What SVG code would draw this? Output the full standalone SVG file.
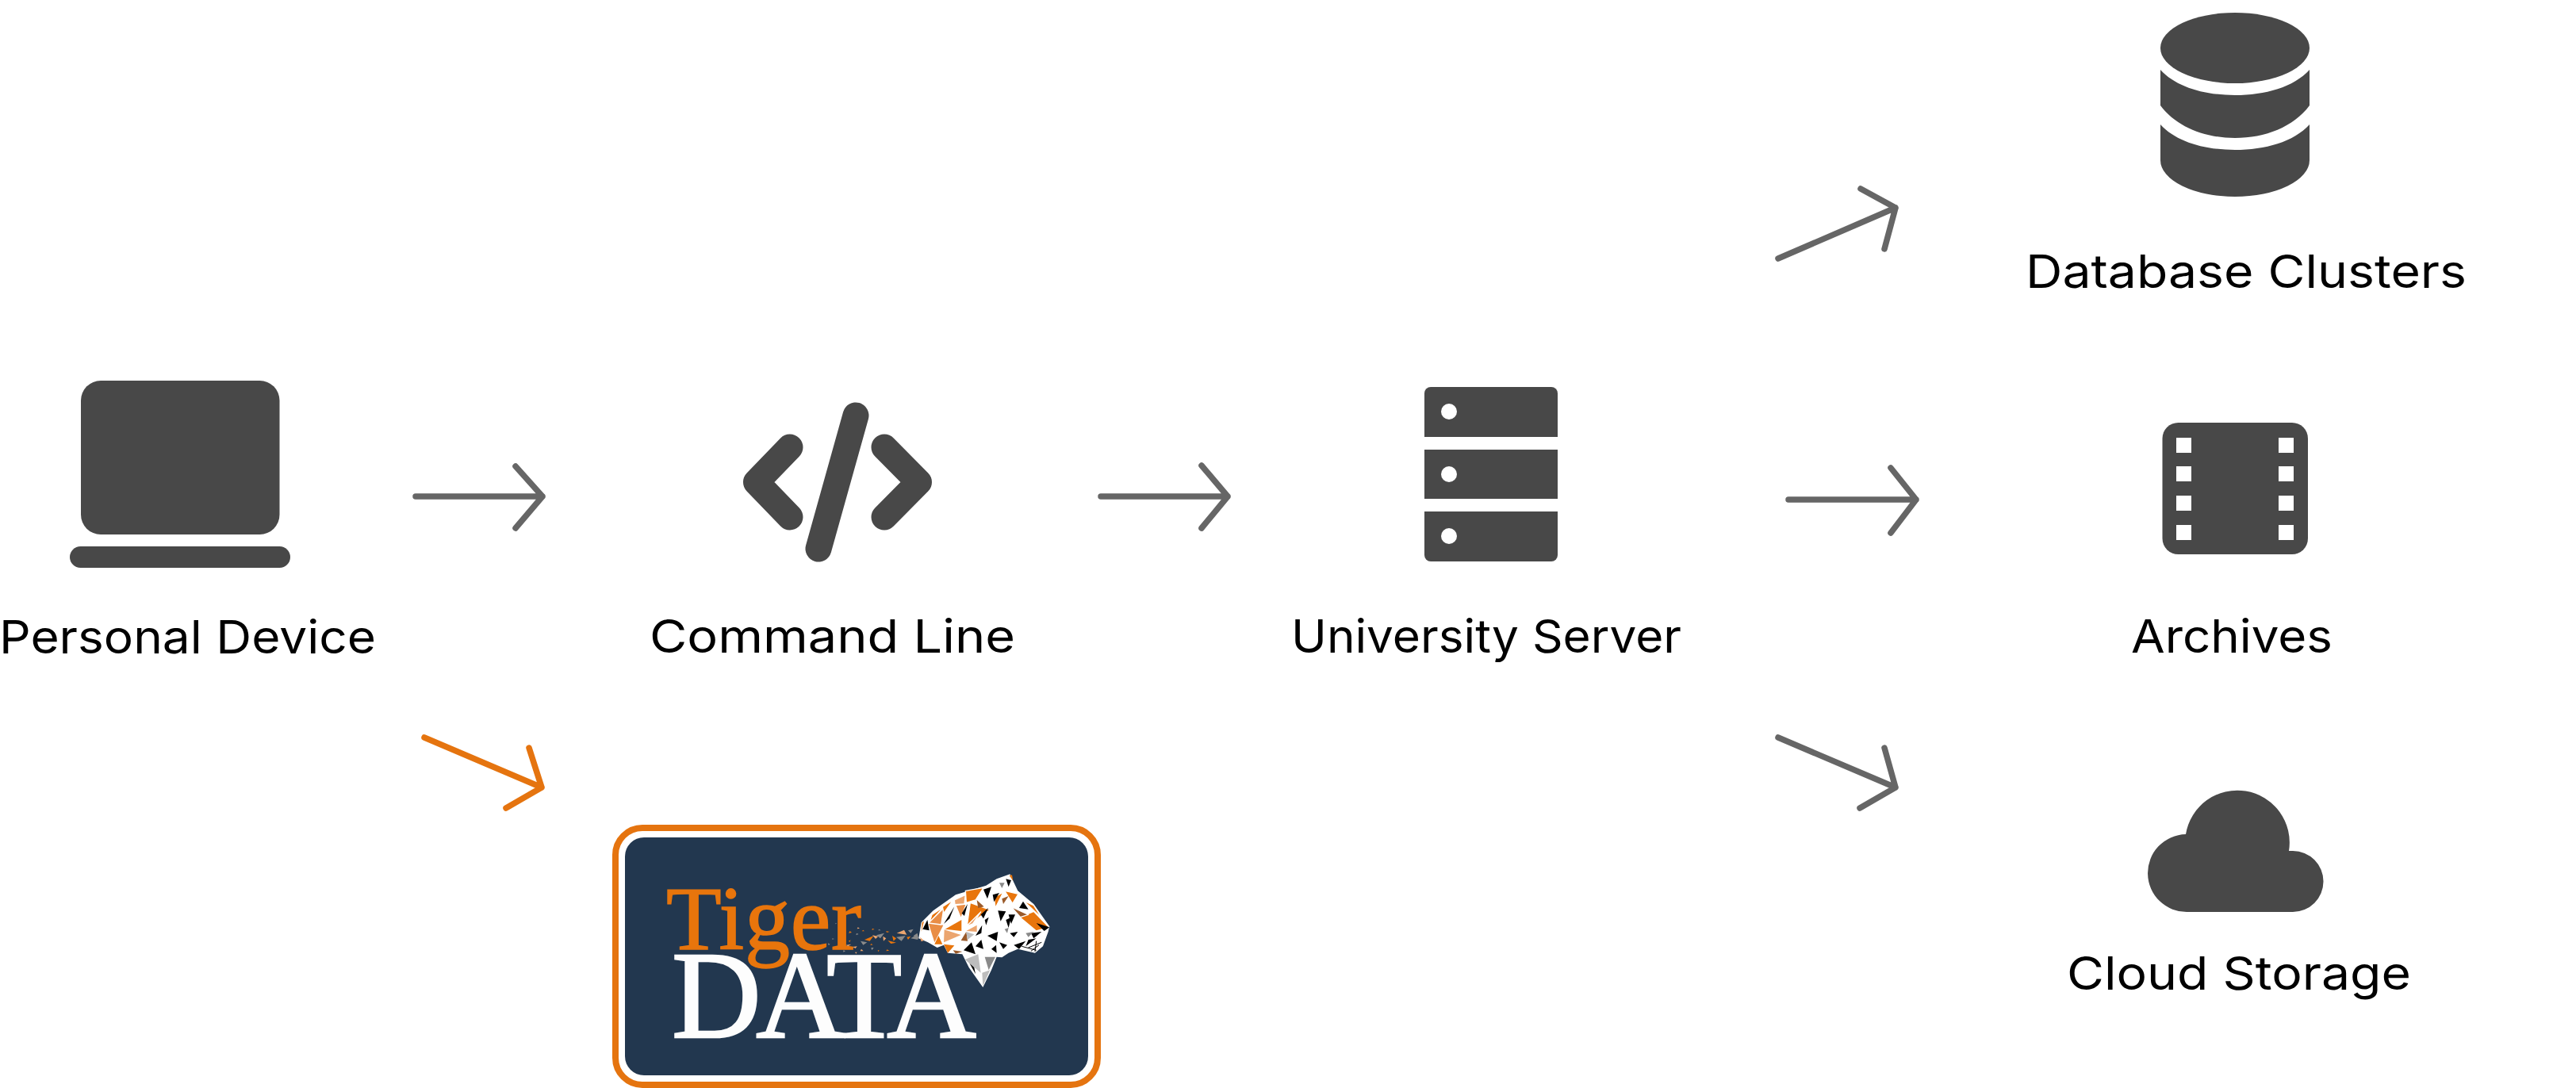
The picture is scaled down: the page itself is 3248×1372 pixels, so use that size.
<svg xmlns="http://www.w3.org/2000/svg" width="3248" height="1372" viewBox="0 0 3248 1372">
<style>
.icon{fill:#484848}
.hole{fill:#fff}
.label{font-family:"Inter","Liberation Sans",sans-serif;font-size:58px;font-weight:400;fill:#000}
.arrow{fill:none;stroke:#666;stroke-width:7.5;stroke-linecap:round;stroke-linejoin:round}
.orange{stroke:#e5740f}
.code{fill:none;stroke:#484848;stroke-width:33;stroke-linecap:round;stroke-linejoin:round}
.o{fill:#e8750c}.l{fill:#eba56f}.d{fill:#e98d45}.k{fill:#000}.g{fill:#8a8a8a}.s{fill:#bdbdbd}.b{fill:#9a5a2a}
.w{stroke:#fff;stroke-width:4;stroke-linejoin:round}
</style>
<rect width="3248" height="1372" fill="#fff"/>
<g id="connectors">
<path class="arrow" d="M524,626H684M650,588L684,626L650,666"/>
<path class="arrow" d="M1388,626H1548M1515,587L1548,626L1515,666"/>
<path class="arrow" d="M2242,326L2390,262M2346,238L2390,262L2376,314"/>
<path class="arrow" d="M2255,630H2416M2384,590L2416,630L2384,672"/>
<path class="arrow" d="M2242,930L2390,993M2376,943L2390,993L2345,1019"/>
<path class="arrow orange" d="M535,930L683,993M667,943L683,993L638,1019"/>
</g>
<g id="personal-device">
<rect class="icon" x="102" y="480" width="250.500" height="194" rx="25"/>
<rect class="icon" x="88" y="689" width="278" height="27" rx="13.500"/>
<text class="label" x="-1" y="824" textLength="475" lengthAdjust="spacingAndGlyphs">Personal Device</text>
</g>
<g id="command-line">
<path class="code" d="M996,564L953.500,608L996,652"/>
<path class="code" d="M1115,564L1158.500,608L1115,652"/>
<path class="code" d="M1079,524L1032,692"/>
<text class="label" x="819" y="823" textLength="461" lengthAdjust="spacingAndGlyphs">Command Line</text>
</g>
<g id="university-server">
<path class="icon" d="M1804,488H1956a8,8 0 0 1 8,8V551H1796V496a8,8 0 0 1 8,-8Z"/>
<rect class="icon" x="1796" y="567" width="168" height="62"/>
<path class="icon" d="M1796,645H1964V700a8,8 0 0 1 -8,8H1804a8,8 0 0 1 -8,-8Z"/>
<circle class="hole" cx="1827" cy="519" r="10"/>
<circle class="hole" cx="1827" cy="598" r="10"/>
<circle class="hole" cx="1827" cy="676" r="10"/>
<text class="label" x="1628" y="823" textLength="492" lengthAdjust="spacingAndGlyphs">University Server</text>
</g>
<g id="database-clusters">
<ellipse class="icon" cx="2818" cy="60.500" rx="94" ry="44.500"/>
<path class="icon" d="M2724,88C2744,110 2780,120 2818,120C2856,120 2892,110 2912,88V133C2892,160 2856,174 2818,174C2780,174 2744,160 2724,133Z"/>
<path class="icon" d="M2724,157C2744,179 2780,189 2818,189C2856,189 2892,179 2912,157V202A94,46 0 0 1 2724,202Z"/>
<text class="label" x="2554" y="363" textLength="556" lengthAdjust="spacingAndGlyphs">Database Clusters</text>
</g>
<g id="archives">
<rect class="icon" x="2726.500" y="533" width="183.500" height="166" rx="20"/>
<g class="hole">
<rect x="2744" y="552" width="19" height="19"/><rect x="2744" y="588" width="19" height="19"/><rect x="2744" y="625" width="19" height="19"/><rect x="2744" y="662" width="19" height="19"/>
<rect x="2873" y="552" width="19" height="19"/><rect x="2873" y="588" width="19" height="19"/><rect x="2873" y="625" width="19" height="19"/><rect x="2873" y="662" width="19" height="19"/>
</g>
<text class="label" x="2687" y="823" textLength="254" lengthAdjust="spacingAndGlyphs">Archives</text>
</g>
<g id="cloud-storage">
<path class="icon" d="M2758,1150A49,49 0 0 1 2756,1052A60,60 0 0 1 2886,1073H2891A38.500,38.500 0 0 1 2891,1150Z"/>
<text class="label" x="2606" y="1248" textLength="434" lengthAdjust="spacingAndGlyphs">Cloud Storage</text>
</g>
<g id="tiger-data">
<rect x="776" y="1044" width="608" height="324" rx="34" fill="#fff" stroke="#e5740f" stroke-width="8"/>
<rect x="788" y="1056" width="584" height="300" rx="24" fill="#22374f"/>
<text x="840" y="1197" font-family="Liberation Serif,serif" font-size="114" fill="#e8750c" stroke="#e8750c" stroke-width="1.500" textLength="246" lengthAdjust="spacing">Tiger</text>
<text x="847" y="1308" font-family="Liberation Serif,serif" font-size="156" fill="#fdfdfd" stroke="#fdfdfd" stroke-width="2.500" textLength="384" lengthAdjust="spacing">DATA</text>
<g transform="translate(1030,1130) scale(.3333)">
<path class="l" d="M302,140L330,128L340,146Z"/>
<path class="o" d="M285,150L300,160L290,170ZM210,122L218,126L208,128ZM262,132L275,135L264,138ZM175,128L180,133L170,133ZM180,165L215,150L200,170ZM120,170L128,166L124,174ZM205,180L212,184L202,186ZM230,205L236,205L232,211ZM268,168L300,176L280,180ZM125,132L132,138L120,140ZM265,202L274,206L262,208ZM340,155L355,152L345,165Z"/>
<path class="l" d="M210,148L232,152L222,162ZM110,185L130,182L118,190ZM168,200L176,208L164,208ZM135,192L152,190L146,198ZM155,118L162,122L152,124ZM144,212L152,212L148,218ZM250,152L262,160L252,170Z"/>
<path class="g" d="M225,148L255,140L240,160ZM165,170L190,175L175,185ZM300,155L335,150L320,170ZM345,130L365,125L355,140ZM205,195L215,195L208,205ZM100,205L108,208L100,212ZM150,140L158,144L148,148ZM355,160L380,145L382,165ZM42,178L50,182L44,186ZM70,102L76,104L70,106ZM235,125L242,130L232,130ZM58,160L66,162L58,164Z"/>
</g>
<g transform="translate(1150,1060) scale(.3333)">
<path fill="#fff" d="M370,127L400,190L460,240L520,325L515,345L495,400L465,425L400,410L365,425L340,442L320,440L300,490L268,555L215,480L190,430L135,425L120,395L95,405L60,385L25,370L35,310L80,265L165,205L280,170L320,145Z"/>
<path class="b" d="M185,378L205,345L210,380ZM155,415L190,420L165,428Z"/>
<path class="o" d="M85,392L100,360L115,392ZM120,392L160,397L135,425ZM38,310L45,305L35,345Z"/>
<path class="l" d="M122,337L185,357L120,385ZM205,342L245,320L245,345ZM30,365L45,378L35,382Z"/>
<path class="d" d="M62,312L118,320L85,385Z"/>
<path class="o" d="M125,335L187,300L187,342Z"/>
<path class="k" d="M40,335L58,300L65,340ZM285,360L325,345L320,380ZM385,395L430,380L405,410ZM240,360L265,320L262,350ZM240,400L262,375L270,410ZM330,385L360,395L345,410ZM370,350L400,345L385,365ZM450,350L490,345L460,370ZM195,415L225,385L240,430ZM275,300L290,290L280,320ZM440,375L470,370L430,400ZM215,460L235,480L240,505ZM300,410L318,395L320,425ZM355,300L375,290L365,330Z"/>
<path class="g" d="M275,440L315,440L290,490ZM25,372L5,360L20,350ZM430,350L460,345L440,365ZM350,335L365,330L360,350Z"/>
<path class="s" d="M200,450L250,430L260,500ZM265,500L295,490L268,550ZM205,345L235,355L210,375Z"/>
<path fill="none" stroke="#000" stroke-width="3" d="M490,385L440,405M480,395L450,418M470,380L465,420M415,400L470,415"/>
<g transform="translate(-30,90)">
<path class="o w" d="M105,190L150,160L95,222Z"/>
<path class="d w" d="M92,222L150,165L140,228Z"/>
<path class="o w" d="M145,160L185,135L150,185Z"/>
<path class="l w" d="M190,135L232,115L228,150L192,152Z"/>
<path class="o w" d="M232,100L300,88L270,135L235,145Z"/>
<path class="d w" d="M195,155L235,150L215,205Z"/>
<path class="k" d="M150,225L190,160L172,205Z"/>
<path class="k" d="M218,185L240,150L228,195Z"/>
<path class="o w" d="M250,145L325,172L238,232Z"/>
<path class="b" d="M275,135L302,160L280,165Z"/>
<path class="l w" d="M235,235L290,180L260,225Z"/>
<path class="o w" d="M380,100L432,112L410,148Z"/>
<path class="o w" d="M452,138L490,155L522,205Z"/>
<path class="o w" d="M438,200L490,178L548,238L500,252Z"/>
<path class="b w" d="M405,160L470,190L440,200Z"/>
<path class="o w" d="M340,125L375,105L345,165Z"/>
<path class="k" d="M435,165L470,170L450,140Z"/>
<path class="k" d="M500,222L550,238L530,252Z"/>
<path class="k" d="M300,95L330,85L315,130Z"/>
<path class="k" d="M335,115L360,108L340,142Z"/>
<path class="k" d="M355,175L385,178L365,215Z"/>
<path class="k" d="M395,190L420,190L405,225Z"/>
<path class="k" d="M290,190L318,165L300,205Z"/>
<path class="k" d="M385,55L405,60L395,85Z"/>
<path class="g" d="M360,70L380,70L370,90Z"/>
<path class="o" d="M398,42L408,40L412,62Z"/>
<path class="b" d="M370,130L395,120L375,150Z"/>
</g>
</g>
</g>
</svg>
